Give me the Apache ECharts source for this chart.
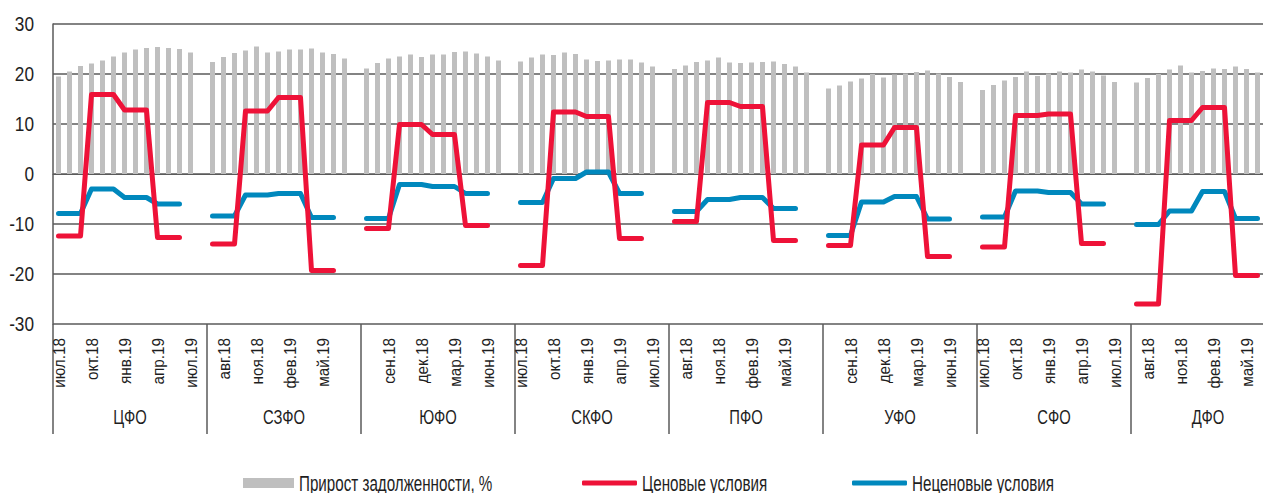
<!DOCTYPE html>
<html>
<head>
<meta charset="utf-8">
<script src="https://cdn.jsdelivr.net/npm/echarts@6/dist/echarts.min.js"></script>
<style>
  html, body { margin: 0; padding: 0; background: #fff; overflow: hidden; }
  #chart { width: 1285px; height: 493px; }
</style>
</head>
<body>
<div id="chart"></div>
<script>
// Federal districts and monthly periods
const districts = ['ЦФО', 'СЗФО', 'ЮФО', 'СКФО', 'ПФО', 'УФО', 'СФО', 'ДФО'];
const months = ['июл.18', 'авг.18', 'сен.18', 'окт.18', 'ноя.18', 'дек.18',
                'янв.19', 'фев.19', 'мар.19', 'апр.19', 'май.19', 'июн.19', 'июл.19'];
const yTicks = [-30, -20, -10, 0, 10, 20, 30];

// Debt growth, % (bars), one array per district, Jul 2018 .. Jul 2019
const debtCFD  = [19.5, 20.5, 21.6, 22.1, 22.7, 23.5, 24.3, 24.9, 25.2, 25.4, 25.2, 25.0, 24.3];
const debtNWFD = [22.4, 23.4, 24.2, 24.7, 25.5, 24.3, 24.5, 24.9, 24.9, 25.1, 24.3, 24.0, 23.1];
const debtSFD  = [21.1, 22.2, 23.1, 23.5, 23.9, 23.4, 23.9, 23.9, 24.4, 24.5, 24.1, 23.5, 22.7];
const debtNCFD = [22.5, 23.3, 23.9, 23.8, 24.3, 24.0, 22.9, 22.6, 22.7, 22.9, 22.9, 22.3, 21.5];
const debtVFD  = [21.0, 21.7, 22.4, 22.7, 23.3, 22.3, 22.2, 22.3, 22.4, 22.5, 22.0, 21.5, 20.3];
const debtUFD  = [17.1, 17.7, 18.5, 19.1, 20.0, 19.3, 19.9, 20.1, 20.4, 20.7, 20.1, 19.4, 18.4];
const debtSibFD= [16.8, 17.8, 18.7, 19.4, 20.5, 19.6, 20.1, 20.5, 20.3, 20.9, 20.5, 19.7, 18.4];
const debtFEFD = [18.3, 19.2, 20.0, 20.9, 21.7, 20.3, 20.6, 21.1, 21.0, 21.5, 21.0, 20.3, 19.8];

// Price conditions (red line)
const priceCFD  = [-12.4, -12.4, -12.4, 15.9, 15.9, 15.9, 12.8, 12.8, 12.8, -12.7, -12.7, -12.7, null];
const priceNWFD = [-14.0, -14.0, -14.0, 12.6, 12.6, 12.6, 15.3, 15.3, 15.3, -19.3, -19.3, -19.3, null];
const priceSFD  = [-10.9, -10.9, -10.9, 9.9, 9.9, 9.9, 7.9, 7.9, 7.9, -10.3, -10.3, -10.3, null];
const priceNCFD = [-18.3, -18.3, -18.3, 12.4, 12.4, 12.4, 11.5, 11.5, 11.5, -12.9, -12.9, -12.9, null];
const priceVFD  = [-9.5, -9.5, -9.5, 14.3, 14.3, 14.3, 13.5, 13.5, 13.5, -13.3, -13.3, -13.3, null];
const priceUFD  = [-14.3, -14.3, -14.3, 5.8, 5.8, 5.8, 9.3, 9.3, 9.3, -16.5, -16.5, -16.5, null];
const priceSibFD= [-14.6, -14.6, -14.6, 11.7, 11.7, 11.7, 12.0, 12.0, 12.0, -13.9, -13.9, -13.9, null];
const priceFEFD = [-26.0, -26.0, -26.0, 10.7, 10.7, 10.7, 13.3, 13.3, 13.3, -20.3, -20.3, -20.3, null];

// Non-price conditions (blue line)
const nonPriceCFD  = [-7.9, -7.9, -7.9, -3.0, -3.0, -3.0, -4.7, -4.7, -4.7, -6.0, -6.0, -6.0, null];
const nonPriceNWFD = [-8.4, -8.4, -8.4, -4.2, -4.2, -4.2, -3.9, -3.9, -3.9, -8.7, -8.7, -8.7, null];
const nonPriceSFD  = [-8.9, -8.9, -8.9, -2.1, -2.1, -2.1, -2.5, -2.5, -2.5, -3.9, -3.9, -3.9, null];
const nonPriceNCFD = [-5.7, -5.7, -5.7, -0.9, -0.9, -0.9, 0.4, 0.4, 0.4, -3.9, -3.9, -3.9, null];
const nonPriceVFD  = [-7.5, -7.5, -7.5, -5.1, -5.1, -5.1, -4.7, -4.7, -4.7, -6.9, -6.9, -6.9, null];
const nonPriceUFD  = [-12.3, -12.3, -12.3, -5.6, -5.6, -5.6, -4.5, -4.5, -4.5, -9.0, -9.0, -9.0, null];
const nonPriceSibFD= [-8.6, -8.6, -8.6, -3.4, -3.4, -3.4, -3.7, -3.7, -3.7, -6.0, -6.0, -6.0, null];
const nonPriceFEFD = [-10.1, -10.1, -10.1, -7.4, -7.4, -7.4, -3.5, -3.5, -3.5, -8.9, -8.9, -8.9, null];

const seriesNames = ['Прирост задолженности, %', 'Ценовые условия', 'Неценовые условия'];

// Each district block: 13 months followed by one empty slot as a spacer
const debtBlocks = [debtCFD, debtNWFD, debtSFD, debtNCFD, debtVFD, debtUFD, debtSibFD, debtFEFD];
const priceBlocks = [priceCFD, priceNWFD, priceSFD, priceNCFD, priceVFD, priceUFD, priceSibFD, priceFEFD];
const nonPriceBlocks = [nonPriceCFD, nonPriceNWFD, nonPriceSFD, nonPriceNCFD, nonPriceVFD, nonPriceUFD, nonPriceSibFD, nonPriceFEFD];

function flatten(blocks) {
  const out = [];
  blocks.forEach(b => { b.forEach(v => out.push(v)); out.push(null); });
  return out;
}
const categoryLabels = [];
districts.forEach(() => { months.forEach(m => categoryLabels.push(m)); categoryLabels.push(''); });

const FONT = '"Liberation Sans", Arial, sans-serif';
const GRID_COLOR = '#5a5a5a';
const TEXT_COLOR = '#1e1e1e';

// Font sizes per text role, and the horizontal squeeze giving a condensed face
const SIZE_LEGEND = 22, SIZE_Y = 21, SIZE_MONTH = 17, SIZE_GROUP = 20;
const CONDENSE = { 22: 0.69, 21: 0.82, 17: 0.9, 20: 0.74 };

const chart = echarts.init(document.getElementById('chart'), null, { renderer: 'svg' });

function legendFor(name, left, iconW, iconH, top, icon) {
  return {
    data: [{ name: name, icon: icon }],
    left: left,
    top: top,
    orient: 'horizontal',
    padding: 0,
    itemWidth: iconW,
    itemHeight: iconH,
    selectedMode: false,
    textStyle: { fontFamily: FONT, fontSize: SIZE_LEGEND, color: TEXT_COLOR }
  };
}

chart.setOption({
  animation: false,
  backgroundColor: '#ffffff',
  textStyle: { fontFamily: FONT },
  grid: { left: 53, top: 24, right: 0, bottom: 169, containLabel: false },
  legend: [
    legendFor(seriesNames[0], 243, 51, 10, 472, 'rect'),
    legendFor(seriesNames[1], 582, 55, 5, 472, 'roundRect'),
    legendFor(seriesNames[2], 852, 55, 5, 472, 'roundRect')
  ],
  xAxis: [
    {
      type: 'category',
      data: categoryLabels,
      boundaryGap: true,
      position: 'bottom',
      axisLine: { show: true, lineStyle: { color: GRID_COLOR, width: 1 } },
      axisTick: { show: false },
      axisLabel: {
        interval: 2,
        rotate: 90,
        margin: 14,
        fontFamily: FONT,
        fontSize: SIZE_MONTH,
        color: TEXT_COLOR
      },
      splitLine: { show: false }
    },
    {
      type: 'category',
      data: districts,
      boundaryGap: true,
      position: 'bottom',
      axisLine: { show: false },
      axisTick: { show: true, length: 110, lineStyle: { color: GRID_COLOR, width: 1.5 } },
      axisLabel: {
        interval: 0,
        margin: 83,
        fontFamily: FONT,
        fontSize: SIZE_GROUP,
        color: TEXT_COLOR
      },
      splitLine: { show: false }
    }
  ],
  yAxis: {
    type: 'value',
    min: yTicks[0],
    max: yTicks[yTicks.length - 1],
    interval: 10,
    axisLine: { show: true, lineStyle: { color: GRID_COLOR, width: 1.5 } },
    axisTick: { show: false },
    axisLabel: {
      margin: 19,
      fontFamily: FONT,
      fontSize: SIZE_Y,
      color: TEXT_COLOR
    },
    splitLine: { show: true, lineStyle: { color: GRID_COLOR, width: 1.5 } }
  },
  series: [
    {
      name: seriesNames[0],
      type: 'bar',
      xAxisIndex: 0,
      data: flatten(debtBlocks),
      barWidth: 5,
      itemStyle: { color: '#bfbfbf' },
      z: 2
    },
    {
      name: seriesNames[2],
      type: 'line',
      xAxisIndex: 0,
      data: flatten(nonPriceBlocks),
      connectNulls: false,
      symbol: 'none',
      lineStyle: { color: '#0088bd', width: 5, cap: 'round', join: 'round' },
      itemStyle: { color: '#0088bd' },
      z: 3
    },
    {
      name: seriesNames[1],
      type: 'line',
      xAxisIndex: 0,
      data: flatten(priceBlocks),
      connectNulls: false,
      symbol: 'none',
      lineStyle: { color: '#ee1238', width: 5, cap: 'round', join: 'round' },
      itemStyle: { color: '#ee1238' },
      z: 4
    }
  ]
});

// Narrow every text element along its own baseline, keeping its anchor point fixed
function condenseTexts() {
  const svg = document.querySelector('#chart svg');
  if (!svg) return;
  svg.querySelectorAll('text').forEach(t => {
    if (t.getAttribute('data-narrow')) return;
    const size = Math.round(parseFloat(getComputedStyle(t).fontSize));
    const s = CONDENSE[size] || 0.8;
    const x = parseFloat(t.getAttribute('x') || '0');
    const y = parseFloat(t.getAttribute('y') || '0');
    const tr = t.getAttribute('transform') || '';
    t.setAttribute('transform', tr + ' translate(' + x + ' ' + y + ') scale(' + s + ' 1) translate(' + (-x) + ' ' + (-y) + ')');
    t.setAttribute('data-narrow', '1');
  });
}
chart.on('finished', condenseTexts);
chart.getZr().flush();
condenseTexts();
</script>
</body>
</html>
